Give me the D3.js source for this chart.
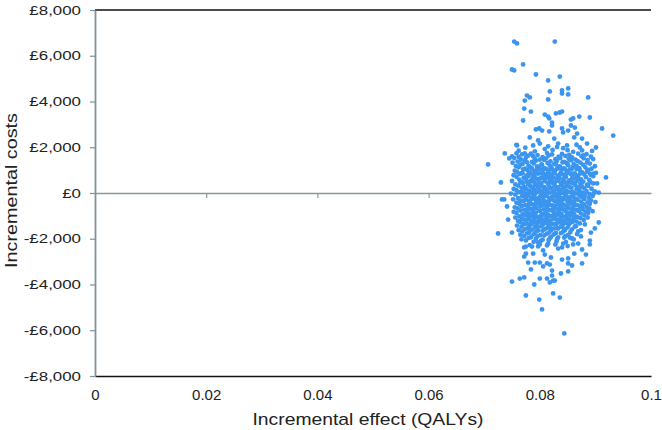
<!DOCTYPE html>
<html><head><meta charset="utf-8">
<script src="https://cdn.jsdelivr.net/npm/d3@7"></script>
<style>body{margin:0;background:#fff}text{font-family:"Liberation Sans",Arial,Helvetica,sans-serif}</style>
</head><body><svg id="c" width="662" height="430"></svg>
<script>
const xTicks = [0, 0.02, 0.04, 0.06, 0.08, 0.1];
const xTickLabels = ["0", "0.02", "0.04", "0.06", "0.08", "0.1"];
const yTicks = [-8000, -6000, -4000, -2000, 0, 2000, 4000, 6000, 8000];
const yTickLabels = ["-£8,000", "-£6,000", "-£4,000", "-£2,000", "£0", "£2,000", "£4,000", "£6,000", "£8,000"];
const xTitle = "Incremental effect (QALYs)";
const yTitle = "Incremental costs";

// scattered points: [incremental effect (QALYs), incremental cost (£)]
const outlierPoints = [
 [.0754,6620],[.0759,6540],[.0827,6620],[.0770,5620],[.0750,5400],[.0754,5360],[.0793,5180],[.0836,5090],
 [.0815,4920],[.0851,4570],[.0840,4480],[.0818,4440],[.0840,4350],[.0851,4310],[.0777,4260],[.0782,4180],
 [.0887,4180],[.0815,4090],[.0773,4040],[.0772,3690],[.0784,3560],[.0840,3560],[.0836,3520],[.0829,3480],
 [.0809,3430],[.0815,3340],[.0871,3340],[.0890,3300],[.0817,3260],[.0860,3260],[.0856,3210],[.0770,3170],
 [.0822,3080],[.0822,2950],[.0856,2950],[.0863,2860],[.0799,2820],[.0912,2820],[.0793,2780],[.0932,2510],
 [.0759,2080],[.0872,1990],[.0876,1860],[.0737,1730],[.0878,1640],[.0750,1600],[.0745,1510],[.0885,1330],
 [.0707,1250],[.0890,850],[.0897,850],[.0919,680],[.0730,460],[.0896,420],[.0899,70],[.0906,20],[.0897,-20],
 [.0732,-280],[.0736,-280],[.0741,-590],[.0887,-770],[.0743,-1160],[.0906,-1290],[.0899,-1550],[.0750,-1730],
 [.0725,-1770]
];
const upperPoints = [
 [.0782,2430],[.0797,2300],[.0800,2160],[.0817,2690],[.0826,2380],[.0840,2820],[.0842,2650],[.0851,2730],
 [.0862,2430],[.0867,2600],[.0876,2380],[.0804,2730],[.0788,2080],[.0833,2160],[.0849,2080],[.0885,2160],
 [.0773,1730],[.0758,2100],[.0815,2040],[.0842,1960],[.0866,2110],[.0774,1980],[.0809,1920],[.0831,2010],
 [.0850,1870],[.0901,1990],[.0762,1850],[.0791,1820],[.0823,1880],[.0860,1800],[.0894,1840]
];
const lowerPoints = [
 [.0869,-1680],[.0892,-1730],[.0874,-1900],[.0854,-1950],[.0858,-1990],[.0890,-2080],[.0797,-2160],[.0815,-2210],
 [.0842,-2210],[.0869,-2210],[.0800,-2250],[.0860,-2250],[.0890,-2250],[.0786,-2340],[.0775,-2340],[.0772,-2380],
 [.0840,-2380],[.0833,-2430],[.0876,-2470],[.0806,-2510],[.0775,-2650],[.0788,-2650],[.0862,-2650],[.0809,-2690],
 [.0883,-2690],[.0772,-2780],[.0820,-2820],[.0851,-2860],[.0840,-2910],[.0779,-3040],[.0791,-3040],[.0800,-3040],
 [.0813,-3080],[.0851,-3080],[.0876,-3080],[.0818,-3130],[.0858,-3170],[.0806,-3210],[.0784,-3340],[.0822,-3390],
 [.0851,-3430],[.0838,-3520],[.0822,-3610],[.0764,-3740],[.0772,-3690],[.0800,-3740],[.0813,-3740],[.0827,-3830],
 [.0824,-3830],[.0750,-3870],[.0818,-3910],[.0790,-4000],[.0824,-4390],[.0775,-4480],[.0836,-4570],[.0799,-4660],
 [.0804,-5090],[.0844,-6140]
];
// dense central cloud
const corePoints = [
 [.0758,1735],[.0768,1690],[.0784,1715],[.0796,1660],[.0813,1745],[.0822,1685],[.0840,1705],[.0853,1670],[.0869,1720],[.0884,1695],
 [.0762,1575],[.0779,1630],[.0788,1610],[.0805,1565],[.0816,1640],[.0834,1590],[.0846,1620],[.0858,1555],[.0875,1605],[.0892,1585],
 [.0754,1525],[.0766,1465],[.0775,1540],[.0791,1490],[.0800,1455],[.0811,1515],[.0828,1475],[.0837,1535],[.0852,1500],[.0864,1460],[.0879,1520],[.0896,1485],
 [.0760,1375],[.0773,1430],[.0786,1360],[.0793,1415],[.0808,1445],[.0819,1385],[.0831,1405],[.0844,1355],[.0856,1425],[.0868,1395],[.0886,1440],
 [.0751,1325],[.0769,1270],[.0777,1340],[.0789,1295],[.0803,1255],[.0814,1315],[.0826,1280],[.0841,1345],[.0849,1300],[.0861,1265],[.0873,1330],[.0890,1285],
 [.0757,1175],[.0765,1235],[.0780,1190],[.0795,1160],[.0804,1225],[.0818,1200],[.0829,1245],[.0836,1165],[.0851,1215],[.0866,1185],[.0878,1230],[.0899,1170],
 [.0762,1125],[.0774,1065],[.0784,1110],[.0799,1140],[.0809,1075],[.0821,1120],[.0834,1095],[.0845,1055],[.0859,1130],[.0871,1085],[.0882,1115],[.0893,1060],
 [.0755,975],[.0770,1035],[.0778,995],[.0790,960],[.0801,1020],[.0812,1045],[.0825,985],[.0839,1010],[.0848,965],[.0857,1030],[.0872,990],[.0887,1015],
 [.0759,925],[.0767,870],[.0782,900],[.0793,935],[.0806,865],[.0815,905],[.0827,940],[.0838,880],[.0850,915],[.0863,855],[.0876,900],[.0885,935],[.0901,880],
 [.0753,775],[.0764,830],[.0776,760],[.0788,805],[.0797,845],[.0810,785],[.0820,815],[.0832,755],[.0843,800],[.0855,840],[.0869,770],[.0880,810],[.0892,790],
 [.0758,715],[.0771,665],[.0780,740],[.0791,690],[.0803,655],[.0817,725],[.0824,680],[.0835,745],[.0847,700],[.0859,660],[.0867,720],[.0883,690],[.0896,735],
 [.0763,585],[.0773,635],[.0786,560],[.0795,610],[.0807,645],[.0818,575],[.0830,620],[.0841,590],[.0853,555],[.0862,630],[.0874,600],[.0889,570],
 [.0750,525],[.0765,465],[.0777,505],[.0784,540],[.0798,475],[.0809,515],[.0822,455],[.0833,530],[.0844,490],[.0856,460],[.0868,545],[.0878,500],[.0891,470],
 [.0756,375],[.0770,430],[.0779,395],[.0792,355],[.0801,420],[.0814,445],[.0826,385],[.0838,410],[.0849,365],[.0860,435],[.0873,400],[.0885,370],[.0903,420],
 [.0761,325],[.0772,265],[.0783,300],[.0794,340],[.0805,280],[.0816,315],[.0828,255],[.0840,330],[.0851,290],[.0864,345],[.0876,275],[.0887,310],
 [.0753,175],[.0767,225],[.0776,160],[.0788,205],[.0799,240],[.0810,180],[.0819,215],[.0831,155],[.0842,195],[.0855,235],[.0866,170],[.0880,210],[.0893,185],
 [.0758,125],[.0770,65],[.0781,105],[.0790,140],[.0804,80],[.0813,115],[.0825,55],[.0836,130],[.0848,90],[.0859,60],[.0871,120],[.0884,85],
 [.0748,-25],[.0762,35],[.0774,-40],[.0785,10],[.0796,45],[.0807,-15],[.0818,20],[.0829,-45],[.0841,5],[.0852,40],[.0864,-20],[.0877,15],[.0889,-35],
 [.0756,-75],[.0768,-135],[.0779,-95],[.0791,-60],[.0802,-120],[.0812,-85],[.0824,-145],[.0835,-70],[.0846,-110],[.0858,-140],[.0870,-65],[.0881,-105],[.0895,-130],
 [.0761,-225],[.0773,-165],[.0784,-205],[.0795,-240],[.0806,-180],[.0817,-215],[.0830,-155],[.0840,-230],[.0853,-190],[.0865,-250],[.0876,-175],[.0888,-210],
 [.0752,-275],[.0765,-335],[.0776,-290],[.0787,-255],[.0799,-320],[.0808,-345],[.0820,-285],[.0833,-310],[.0844,-265],[.0855,-330],[.0868,-300],[.0880,-270],[.0892,-325],
 [.0758,-425],[.0771,-365],[.0782,-405],[.0793,-440],[.0804,-380],[.0816,-415],[.0827,-355],[.0838,-430],[.0850,-390],[.0862,-450],[.0874,-375],[.0886,-410],[.0900,-395],
 [.0763,-475],[.0775,-535],[.0786,-490],[.0798,-455],[.0809,-520],[.0821,-545],[.0832,-485],[.0843,-510],[.0856,-465],[.0867,-530],[.0879,-500],[.0890,-470],
 [.0755,-625],[.0767,-565],[.0779,-605],[.0790,-640],[.0801,-580],[.0813,-615],[.0824,-555],[.0836,-630],[.0848,-590],[.0859,-650],[.0872,-575],[.0884,-610],
 [.0760,-675],[.0772,-735],[.0783,-690],[.0794,-655],[.0807,-720],[.0818,-745],[.0829,-685],[.0841,-710],[.0852,-665],[.0864,-730],[.0877,-700],[.0889,-670],
 [.0753,-825],[.0765,-765],[.0777,-805],[.0788,-840],[.0800,-780],[.0811,-815],[.0823,-755],[.0834,-830],[.0846,-790],[.0857,-850],[.0869,-775],[.0882,-810],[.0895,-795],
 [.0758,-875],[.0770,-935],[.0781,-890],[.0793,-855],[.0805,-920],[.0815,-945],[.0827,-885],[.0839,-910],[.0851,-865],[.0862,-930],[.0874,-900],[.0887,-870],
 [.0763,-1025],[.0774,-965],[.0786,-1005],[.0797,-1040],[.0809,-980],[.0820,-1015],[.0831,-955],[.0843,-1030],[.0855,-990],[.0867,-1050],[.0880,-975],
 [.0756,-1075],[.0768,-1135],[.0780,-1090],[.0791,-1055],[.0802,-1120],[.0814,-1145],[.0826,-1085],[.0837,-1110],[.0849,-1065],[.0861,-1130],[.0873,-1100],[.0886,-1070],
 [.0761,-1225],[.0773,-1165],[.0784,-1205],[.0796,-1240],[.0807,-1180],[.0818,-1215],[.0830,-1155],[.0842,-1230],[.0854,-1190],[.0866,-1250],[.0879,-1175],
 [.0765,-1275],[.0777,-1335],[.0789,-1290],[.0800,-1255],[.0812,-1320],[.0823,-1345],[.0835,-1285],[.0847,-1310],[.0859,-1265],[.0872,-1330],
 [.0759,-1425],[.0771,-1365],[.0782,-1405],[.0794,-1440],[.0805,-1380],[.0817,-1415],[.0829,-1355],[.0840,-1430],[.0852,-1390],[.0865,-1450],[.0881,-1375],
 [.0767,-1475],[.0779,-1535],[.0791,-1490],[.0802,-1455],[.0814,-1520],[.0826,-1545],[.0838,-1485],[.0850,-1510],[.0863,-1465],
 [.0762,-1625],[.0774,-1565],[.0786,-1605],[.0797,-1640],[.0809,-1580],[.0821,-1615],[.0833,-1555],[.0845,-1630],[.0858,-1590],[.0874,-1620],
 [.0769,-1675],[.0781,-1735],[.0793,-1690],[.0805,-1655],[.0817,-1720],[.0829,-1745],[.0842,-1685],[.0855,-1710],
 [.0765,-1825],[.0777,-1765],[.0789,-1805],[.0801,-1840],[.0813,-1780],[.0825,-1815],[.0838,-1755],[.0851,-1830],[.0867,-1795],
 [.0772,-1875],[.0784,-1935],[.0796,-1890],[.0808,-1855],[.0820,-1920],[.0833,-1945],[.0846,-1885],
 [.0767,-2025],[.0780,-1965],[.0793,-2005],[.0805,-2040],[.0818,-1980],[.0831,-2015],[.0844,-1955],[.0861,-2030],
 [.0775,-2075],[.0789,-2135],[.0802,-2090],[.0816,-2055],[.0830,-2120],[.0847,-2145],
 [.0782,-2275],[.0797,-2335],[.0813,-2290],[.0828,-2255],[.0850,-2320]
];
// densest middle of the cloud
const centerPoints = [
 [.0772,1040],[.0786,1070],[.0795,1030],[.0807,1060],[.0819,1025],[.0831,1055],[.0843,1075],[.0854,1035],[.0866,1050],
 [.0769,860],[.0780,830],[.0793,870],[.0804,845],[.0813,825],[.0826,865],[.0837,840],[.0849,875],[.0860,830],[.0873,855],
 [.0775,640],[.0788,670],[.0799,630],[.0811,660],[.0822,625],[.0834,655],[.0845,675],[.0858,635],[.0869,650],
 [.0768,460],[.0781,430],[.0790,470],[.0803,445],[.0815,425],[.0827,465],[.0839,440],[.0851,475],[.0863,430],[.0876,455],
 [.0774,240],[.0786,270],[.0797,230],[.0808,260],[.0821,225],[.0833,255],[.0846,275],[.0857,235],[.0870,250],
 [.0768,60],[.0780,30],[.0791,70],[.0801,45],[.0813,25],[.0824,65],[.0835,40],[.0847,75],[.0858,30],[.0871,55],
 [.0776,-160],[.0789,-130],[.0800,-170],[.0811,-140],[.0822,-175],[.0835,-145],[.0847,-125],[.0860,-165],[.0873,-150],
 [.0770,-340],[.0781,-370],[.0793,-330],[.0803,-355],[.0814,-375],[.0826,-335],[.0839,-360],[.0850,-325],[.0861,-370],
 [.0768,-560],[.0780,-530],[.0792,-570],[.0803,-545],[.0815,-525],[.0827,-565],[.0838,-540],[.0850,-575],[.0862,-530],[.0876,-555],
 [.0776,-760],[.0788,-730],[.0800,-770],[.0812,-740],[.0823,-775],[.0835,-745],[.0846,-725],[.0858,-765],[.0870,-750],
 [.0769,-940],[.0780,-970],[.0791,-930],[.0803,-955],[.0814,-975],[.0825,-935],[.0837,-960],[.0849,-925],[.0861,-970],
 [.0778,-1160],[.0790,-1130],[.0801,-1170],[.0812,-1145],[.0824,-1125],[.0836,-1165],[.0848,-1140],[.0860,-1175],
 [.0772,-1340],[.0784,-1370],[.0795,-1330],[.0806,-1355],[.0818,-1375],[.0830,-1335],[.0842,-1360],[.0854,-1325],
 [.0780,-1560],[.0795,-1530],[.0808,-1570],[.0820,-1545],[.0832,-1525],[.0844,-1565]
];

const allPoints = [...corePoints, ...centerPoints, ...upperPoints, ...lowerPoints, ...outlierPoints];

const svg = d3.select("#c");
const x = d3.scaleLinear().domain([0, 0.1]).range([95, 651]);
const y = d3.scaleLinear().domain([-8000, 8000]).range([376, 10]);

// top border
svg.append("line").attr("x1", x(0)).attr("x2", x(0.1)).attr("y1", y(8000)).attr("y2", y(8000))
  .attr("stroke", "#111").attr("stroke-width", 1.5);

// bottom axis: black line + labels
const xb = svg.append("g").attr("transform", `translate(0,${y(-8000)})`)
  .call(d3.axisBottom(x).tickValues(xTicks).tickFormat((d, i) => xTickLabels[i]).tickSize(0).tickPadding(13));
xb.select(".domain").attr("stroke", "#111").attr("stroke-width", 1.5);
xb.selectAll("text").attr("font-size", 15).attr("fill", "#222")
  .attr("font-family", "'Liberation Sans',Arial,sans-serif");

// zero line with small ticks
const xz = svg.append("g").attr("transform", `translate(0,${y(0)})`)
  .call(d3.axisBottom(x).tickValues(xTicks.slice(1, -1)).tickFormat("").tickSize(5).tickSizeOuter(0));
xz.select(".domain").attr("stroke", "#8a979d").attr("stroke-width", 1.6);
xz.selectAll(".tick line").attr("stroke", "#8a979d").attr("stroke-width", 1.2);

// y axis
const ya = svg.append("g").attr("transform", `translate(${x(0)},0)`)
  .call(d3.axisLeft(y).tickValues(yTicks).tickFormat((d, i) => yTickLabels[i]).tickSize(5).tickSizeOuter(0));
ya.select(".domain").attr("stroke", "#7e929c").attr("stroke-width", 1.8);
ya.selectAll(".tick line").attr("stroke", "#7e929c").attr("stroke-width", 1.2);
ya.selectAll("text").attr("font-size", 13).attr("fill", "#222")
  .attr("font-family", "'Liberation Sans',Arial,sans-serif")
  .attr("x", -14 / 1.3).attr("transform", "scale(1.3,1)");

// points
svg.append("g").selectAll("circle").data(allPoints).join("circle")
  .attr("cx", d => x(d[0])).attr("cy", d => y(d[1])).attr("r", 2.4)
  .attr("fill", "#3b95ee");

// titles
svg.append("text").attr("x", 368).attr("y", 425).attr("text-anchor", "middle")
  .attr("font-size", 17).attr("fill", "#222")
  .attr("textLength", 231).attr("lengthAdjust", "spacingAndGlyphs").text(xTitle);
svg.append("text").attr("transform", `translate(17,190.5) rotate(-90)`)
  .attr("text-anchor", "middle").attr("font-size", 17).attr("fill", "#222")
  .attr("textLength", 155).attr("lengthAdjust", "spacingAndGlyphs").text(yTitle);
</script></body></html>
